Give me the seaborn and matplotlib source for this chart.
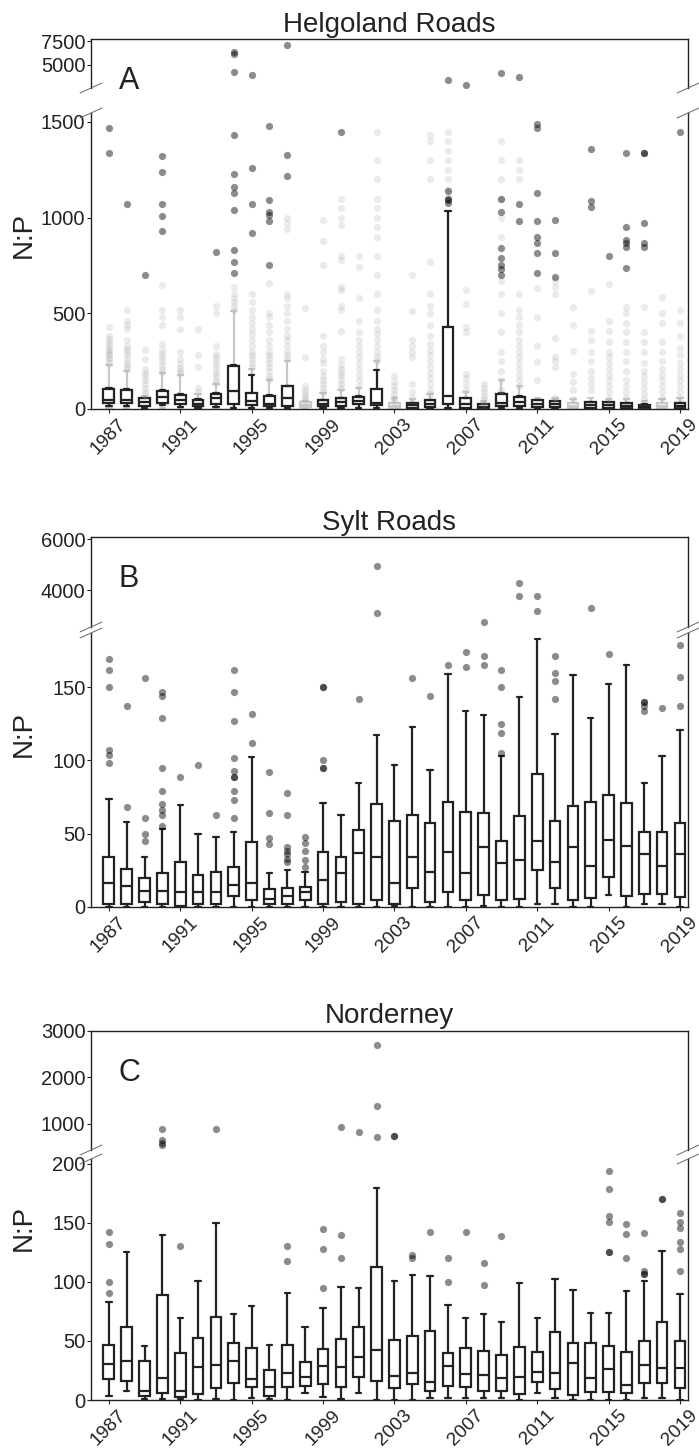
import numpy as np
import pandas as pd
import matplotlib
matplotlib.use("Agg")
import matplotlib.pyplot as plt
import seaborn as sns
from matplotlib.lines import Line2D

years = [str(y) for y in range(1987, 2020)]
tick_pos = list(range(0, 33, 4))
tick_years = years[::4]

# ---------------- Helgoland Roads (A) ----------------
a_lo = [15, 15, 5, 20, 10, 5, 10, 5, 5, 5, 5, np.nan, 5, 5, 5, 5, np.nan, 3, 3, 5, 2, 2, 3, 3, 3, 3, np.nan, 3, 3, 3, 3, np.nan, 3]
a_q1 = [29, 29, 17, 29, 24, 14, 24, 24, 19, 14, 14, np.nan, 14, 17, 26, 21, np.nan, 7, 12, 26, 5, 5, 17, 17, 12, 12, np.nan, 7, 7, 7, 5, np.nan, 7]
a_med = [47, 47, 34, 64, 45, 28, 57, 95, 40, 28, 60, np.nan, 28, 35, 43, 29, np.nan, 20, 28, 67, 25, 12, 30, 35, 28, 25, np.nan, 20, 20, 18, 12, np.nan, 18]
a_q3 = [102, 97, 55, 93, 74, 48, 81, 223, 86, 69, 119, np.nan, 45, 55, 64, 102, np.nan, 31, 45, 427, 55, 26, 81, 64, 45, 40, np.nan, 36, 36, 31, 22, np.nan, 31]
a_hi = [110, 105, 60, 100, 80, 52, 85, 230, 178, 72, 122, np.nan, 48, 58, 68, 206, np.nan, 33, 48, 1036, 58, 28, 85, 68, 48, 42, np.nan, 38, 38, 33, 24, np.nan, 33]

# faint (grey) layer of Helgoland
ag_lo = [5, 5, 2, 5, 3, 2, 3, 2, 2, 2, 2, 2, 2, 2, 2, 2, 1, 1, 1, 2, 1, 1, 1, 1, 1, 1, 1, 1, 1, 1, 1, 1, 1]
ag_q1 = [29, 29, 17, 29, 24, 14, 24, 24, 19, 14, 14, 10, 14, 17, 26, 21, 5, 7, 12, 26, 5, 5, 17, 17, 12, 12, 5, 7, 7, 7, 5, 5, 7]
ag_med = [47, 47, 34, 64, 45, 28, 57, 95, 40, 28, 60, 20, 28, 35, 43, 29, 15, 20, 28, 67, 25, 12, 30, 35, 28, 25, 15, 20, 20, 18, 12, 15, 18]
ag_q3 = [102, 97, 55, 93, 74, 48, 81, 223, 86, 69, 119, 35, 45, 55, 64, 102, 31, 31, 45, 427, 55, 26, 81, 64, 45, 40, 31, 36, 36, 31, 22, 31, 31]
ag_hi = [230, 200, 70, 190, 180, 80, 130, 510, 210, 150, 250, 40, 85, 100, 110, 250, 60, 50, 80, 1036, 90, 40, 150, 120, 60, 60, 50, 60, 50, 50, 40, 50, 60]

a_faint = {
    1987: [240, 255, 265, 280, 290, 300, 310, 320, 335, 350, 365, 380, 430],
    1988: [210, 225, 240, 260, 280, 300, 315, 330, 360, 420, 440, 460, 520],
    1989: [75, 90, 110, 130, 150, 170, 190, 210, 260, 310],
    1990: [195, 210, 230, 250, 270, 290, 310, 340, 440, 480, 520, 650],
    1991: [190, 200, 215, 235, 260, 300, 420, 480, 520],
    1992: [90, 110, 220, 280, 420],
    1993: [135, 150, 170, 190, 210, 230, 250, 270, 290, 330, 500, 540],
    1994: [520, 540, 560, 580, 600, 640],
    1995: [220, 240, 260, 280, 300, 330, 360, 390, 420, 450, 480, 520, 560, 600],
    1996: [155, 175, 200, 220, 240, 260, 280, 300, 330, 360, 400, 440, 480, 500, 660],
    1997: [260, 280, 300, 330, 360, 380, 420, 460, 500, 540, 580, 600, 940, 970, 1000],
    1998: [40, 55, 70, 85, 100, 120, 270, 530],
    1999: [90, 110, 130, 150, 170, 200, 240, 260, 300, 330, 380, 750, 880, 990],
    2000: [110, 130, 150, 170, 190, 210, 230, 260, 410, 520, 540, 620, 640, 780, 800, 960, 1000, 1050, 1100],
    2001: [120, 150, 180, 210, 240, 270, 300, 330, 360, 400, 460, 580, 740, 800],
    2002: [250, 270, 300, 330, 360, 390, 420, 460, 520, 600, 700, 800, 900, 950, 1000, 1050, 1100, 1200, 1300, 1450],
    2003: [40, 60, 80, 100, 120, 140, 170],
    2004: [60, 90, 130, 270, 300, 330, 360, 510, 700],
    2005: [80, 100, 130, 160, 190, 220, 250, 280, 310, 340, 380, 440, 500, 540, 600, 770, 1200, 1300, 1400, 1430],
    2006: [1110, 1150, 1200, 1250, 1300, 1350, 1400, 1450],
    2007: [100, 130, 160, 185, 400, 430, 550, 620],
    2008: [30, 50, 70, 90, 110, 130],
    2009: [100, 150, 200, 250, 300, 400, 500, 600, 670, 900, 1000, 1100, 1200, 1300, 1400],
    2010: [120, 150, 180, 210, 240, 270, 300, 330, 360, 400, 440, 480, 520, 600, 1200, 1250, 1300],
    2011: [150, 245, 330, 480, 635],
    2012: [60, 220, 250, 270, 370, 600, 640, 670],
    2013: [50, 100, 140, 185, 305, 437, 532],
    2014: [100, 130, 160, 200, 250, 300, 360, 410, 618],
    2015: [60, 90, 120, 150, 180, 210, 240, 270, 300, 350, 410, 462, 653],
    2016: [60, 90, 120, 150, 200, 250, 300, 350, 400, 450, 500, 532],
    2017: [50, 80, 110, 140, 170, 200, 240, 300, 350, 400, 532],
    2018: [60, 90, 120, 150, 180, 210, 250, 300, 350, 450, 500, 584],
    2019: [60, 90, 120, 150, 180, 210, 240, 280, 320, 380, 450, 515],
}
a_out = {
    1987: [1470, 1340], 1988: [1070], 1989: [700], 1990: [1320, 1240, 1070, 1010, 930],
    1993: [820], 1994: [1430, 1230, 1160, 1130, 1040, 830, 770, 710], 1995: [1260, 1070, 920],
    1996: [1480, 1090, 1030, 1015, 980, 750], 1997: [1330, 1220], 2000: [1450],
    2006: [1140, 1100, 1090, 1075], 2009: [1100, 1030, 840, 790, 755, 730, 700],
    2010: [1070, 980], 2011: [1490, 1470, 1130, 980, 900, 870, 815, 710], 2012: [990, 815, 690],
    2014: [1360, 1085, 1055], 2015: [800], 2016: [1340, 950, 885, 870, 845, 735],
    2017: [1340, 1340, 970, 870, 845], 2019: [1450],
}
a_out_top = {1994: [6400, 6200, 4300], 1995: [3900], 1997: [7150], 2006: [3370],
             2007: [2870], 2009: [4150], 2010: [3760]}

# ---------------- Sylt Roads (B) ----------------
b_lo = [0, 0, 0, 0, 0, 0, 0, 0, 0, 0, 0, 0, 0, 0, 0, 0, 1, 0, 0, 0, 0, 1, 0, 0, 2, 2, 0, 0, 8, 0, 2, 2, 0]
b_q1 = [2, 2, 3.4, 2.3, 1, 2, 2.3, 7.3, 4.5, 2, 2, 4.5, 2, 3.4, 2.3, 5, 2, 12.7, 3.4, 10, 5, 8, 5, 5.7, 25, 12.7, 5, 6, 20.6, 7.5, 9, 9, 7]
b_med = [16.6, 14, 11, 11, 10, 10, 10, 14.8, 16.6, 5.7, 7.5, 10, 18.4, 23, 37, 34, 16.6, 34, 24, 37.7, 23, 40.7, 30, 32, 45, 31, 40.7, 28, 45.7, 41.8, 36, 28, 36]
b_q3 = [34.3, 26, 20, 23, 31, 22, 24, 27, 44.6, 12, 12.7, 13.5, 37.5, 34, 52.5, 70, 59, 63, 57, 72, 65, 64, 45, 62, 91, 59, 69, 72, 76.5, 71, 51, 51, 57.6]
b_hi = [73.4, 58, 33.8, 53, 69.6, 50, 48, 51, 102.5, 23, 25, 24, 71, 63, 84.8, 117.7, 97, 122.6, 93.4, 159.3, 133.7, 131, 103, 143.5, 183, 118, 158.6, 129, 152.5, 165.5, 84.8, 103, 120.7]
b_out = {
    1987: [107, 104, 98, 169, 162, 150], 1988: [68, 137], 1989: [61, 50, 45, 156],
    1990: [55, 63, 66, 70, 79, 95, 129, 147, 144], 1991: [89], 1992: [97], 1993: [63],
    1994: [61, 73, 79, 89, 89, 93, 102, 127, 162, 147], 1995: [112, 132], 1996: [43, 47, 64, 92],
    1997: [31, 33, 36, 38, 41, 63, 78], 1998: [27, 32, 38, 44, 48], 1999: [95, 95, 100, 150, 150],
    2001: [142], 2004: [156], 2005: [144], 2006: [165], 2007: [174, 164], 2008: [171, 165],
    2009: [125, 119, 105, 162, 150], 2012: [142, 154, 160, 171], 2015: [173],
    2017: [140, 140, 137, 134], 2018: [136], 2019: [137, 157, 179],
}
b_out_top = {2002: [4950, 3110], 2008: [2750], 2010: [4260, 3780], 2011: [3770, 3180], 2014: [3290]}

# ---------------- Norderney (C) ----------------
c_lo = [3.4, 7.6, 0.6, 0.5, 0.5, 0, 0.5, 0, 2, 0.5, 0, 5.6, 2.3, 1, 6.2, 0, 0, 0, 2, 2, 2, 2, 2, 0, 5.6, 2, 0, 0, 0, 0, 2, 2, 0]
c_q1 = [17.5, 16.4, 3.4, 6.2, 2.8, 5, 10, 14, 10.7, 3.7, 10.7, 12, 13.3, 10.7, 19.8, 16, 9.9, 13.3, 7.6, 12, 10.7, 7.9, 7.9, 5, 15, 9.6, 4, 6.8, 7, 5.6, 14, 14.7, 10.4]
c_med = [30.5, 33.4, 8, 18.4, 8, 27.7, 30, 33.4, 18, 11.3, 23, 19.8, 29, 28.2, 36, 42.4, 20.6, 23, 15.5, 28.8, 21.8, 20.9, 19, 19.8, 24, 23, 31.6, 19, 26.6, 12.4, 29.4, 27.4, 27.4]
c_q3 = [46.6, 62, 33.4, 88.8, 40, 52.8, 70, 48, 43.8, 25.4, 46.6, 32.5, 43.2, 51.4, 62, 113, 50.8, 54.5, 58.5, 40, 43.8, 41.8, 37.8, 45.2, 40.4, 57.3, 48, 48.6, 45.8, 41, 49.7, 65.9, 49.7]
c_hi = [83.3, 125.7, 45.8, 139.8, 69.8, 101, 150, 72.9, 79.7, 46.6, 90.9, 62, 77.6, 96, 95, 179.4, 101, 105.9, 105, 80, 69, 73, 66, 98.9, 69.8, 102.5, 92.7, 74, 74, 92, 101, 126, 90]
c_out = {
    1987: [141.8, 132, 100, 90.7], 1991: [130], 1997: [130, 118], 1999: [144.6, 127.7, 94.6],
    2000: [139.8, 120], 2004: [122.9, 120], 2005: [142], 2006: [120.6, 100.3], 2007: [142],
    2008: [115.8, 97], 2009: [138.4], 2015: [155.4, 151, 125.7, 125.7, 194, 178.6],
    2016: [149, 140.4, 120], 2017: [141, 109.4, 106.8, 106.8], 2018: [170, 170],
    2019: [158, 151, 145.5, 133.4, 128, 108.8],
}
c_out_top = {1990: [886, 656, 598, 542], 1993: [900], 2000: [943], 2001: [835],
             2002: [2699, 1387, 714], 2003: [749, 749]}


def box_frame(lo, q1, med, q3, hi):
    rows = []
    for yr, *vals in zip(years, lo, q1, med, q3, hi):
        for v in vals:
            rows.append((yr, v))
    return pd.DataFrame(rows, columns=["year", "np"])


def point_frame(d):
    rows = [(str(k), v) for k, vals in d.items() for v in vals]
    return pd.DataFrame(rows, columns=["year", "np"])


sns.set_theme(style="ticks")
plt.rcParams["font.family"] = ["Liberation Sans", "DejaVu Sans"]
plt.rcParams["axes.edgecolor"] = "#222222"
plt.rcParams["axes.linewidth"] = 1.0

W, H = 699, 1453
fig = plt.figure(figsize=(W / 100, H / 100), dpi=100)
XL, XR = 91, 688


def axes_px(top, bot):
    return fig.add_axes([XL / W, 1 - bot / H, (XR - XL) / W, (bot - top) / H])


def fx(px):
    return px / W


def fy(py):
    return 1 - py / H


panels = [
    dict(title="Helgoland Roads", letter="A", top=(39, 88), bot=(113, 409),
         ylim_top=(2550, 7750), ylim_bot=(0, 1547), yt_top=[5000, 7500], yt_bot=[0, 500, 1000, 1500],
         box=(a_lo, a_q1, a_med, a_q3, a_hi), out=a_out, out_top=a_out_top,
         title_y=32, letter_y=89, label_y=235),
    dict(title="Sylt Roads", letter="B", top=(537, 627), bot=(633, 907),
         ylim_top=(2550, 6080), ylim_bot=(0, 187), yt_top=[4000, 6000], yt_bot=[0, 50, 100, 150],
         box=(b_lo, b_q1, b_med, b_q3, b_hi), out=b_out, out_top=b_out_top,
         title_y=530, letter_y=587, label_y=734),
    dict(title="Norderney", letter="C", top=(1031, 1150), bot=(1159, 1400),
         ylim_top=(440, 3000), ylim_bot=(0, 204), yt_top=[1000, 2000, 3000], yt_bot=[0, 50, 100, 150, 200],
         box=(c_lo, c_q1, c_med, c_q3, c_hi), out=c_out, out_top=c_out_top,
         title_y=1023, letter_y=1081, label_y=1228),
]

dot_kw = dict(x="year", y="np", order=years, jitter=False, color="black",
              alpha=0.45, size=5.2, linewidth=0)
box_kw = dict(x="year", y="np", order=years, whis=(0, 100), showfliers=False,
              width=0.6, color="white", linecolor="#222222", linewidth=1.6)

for i, p in enumerate(panels):
    ax_t = axes_px(*p["top"])
    ax_b = axes_px(*p["bot"])

    if i == 0:
        # faint layer of all samples behind the dark boxes
        sns.boxplot(data=box_frame(ag_lo, ag_q1, ag_med, ag_q3, ag_hi), ax=ax_b,
                    **{**box_kw, "linecolor": "#c8c8c8"})
        sns.stripplot(data=point_frame(a_faint), ax=ax_b,
                      **{**dot_kw, "color": "#b0b0b0", "alpha": 0.25})

    sns.boxplot(data=box_frame(*p["box"]), ax=ax_b, **box_kw)
    sns.stripplot(data=point_frame(p["out"]), ax=ax_b, **dot_kw)
    sns.stripplot(data=point_frame(p["out_top"]), ax=ax_t, **dot_kw)

    for ax in (ax_t, ax_b):
        ax.set_xlim(-1.0, 32.45)
        ax.set_xlabel("")
        ax.set_ylabel("")
        ax.tick_params(axis="y", labelsize=14.5, length=3, width=0.8, pad=1, colors="#222222")
        for s in ax.spines.values():
            s.set_linewidth(1.0)

    ax_t.set_ylim(*p["ylim_top"])
    ax_t.set_yticks(p["yt_top"])
    ax_t.spines["bottom"].set_visible(False)
    ax_t.tick_params(axis="x", bottom=False, labelbottom=False)

    ax_b.set_ylim(*p["ylim_bot"])
    ax_b.set_yticks(p["yt_bot"])
    ax_b.spines["top"].set_visible(False)
    ax_b.set_xticks(tick_pos)
    ax_b.set_xticklabels(tick_years, rotation=45, ha="center", fontsize=13.8)
    ax_b.tick_params(axis="x", length=3, width=0.8, pad=2, colors="#222222")

    # break marks
    for xs in (XL, XR):
        for yb in (p["top"][1], p["bot"][0]):
            fig.add_artist(Line2D([fx(xs - 11), fx(xs + 11)], [fy(yb + 5), fy(yb - 5)],
                                  color="#666666", lw=0.7))

    fig.text(fx((XL + XR) / 2), fy(p["title_y"]), p["title"], ha="center",
             va="baseline", fontsize=20, color="#222222")
    fig.text(fx(119), fy(p["letter_y"]), p["letter"], ha="left", va="baseline",
             fontsize=22, color="#222222")
    fig.text(fx(24), fy(p["label_y"]), "N:P", rotation=90, ha="center", va="center",
             fontsize=20, color="#222222")

fig.savefig("out.png", dpi=100)
